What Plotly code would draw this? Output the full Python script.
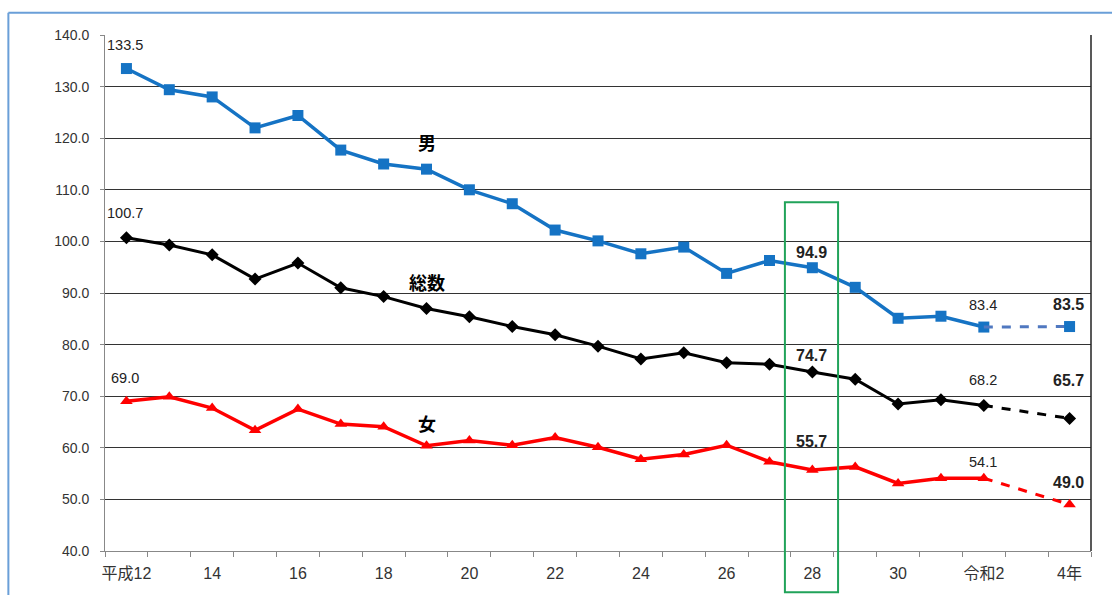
import plotly.graph_objects as go

# Fiscal years (平成12 … 令和4); 令和3 has no survey value
years = ["平成12", "13", "14", "15", "16", "17", "18", "19", "20", "21", "22",
         "23", "24", "25", "26", "27", "28", "29", "30", "令和元", "令和2", "令和3", "令和4"]
axis_labels = ["平成12", "", "14", "", "16", "", "18", "", "20", "", "22", "",
               "24", "", "26", "", "28", "", "30", "", "令和2", "", "4年"]

male = [133.5, 129.4, 128.0, 122.0, 124.4, 117.7, 115.0, 114.0, 110.0, 107.3, 102.2,
        100.1, 97.6, 98.9, 93.8, 96.3, 94.9, 91.1, 85.1, 85.5, 83.4, None, 83.5]
total = [100.7, 99.3, 97.4, 92.7, 95.8, 91.0, 89.3, 87.0, 85.4, 83.5, 81.9,
         79.7, 77.2, 78.4, 76.5, 76.2, 74.7, 73.3, 68.5, 69.3, 68.2, None, 65.7]
female = [69.0, 69.9, 67.7, 63.4, 67.5, 64.6, 64.1, 60.4, 61.4, 60.5, 62.0,
          60.1, 57.8, 58.7, 60.5, 57.3, 55.7, 56.3, 53.1, 54.1, 54.1, None, 49.0]

series_names = ["男", "総数", "女"]

FONT = "Liberation Sans, Noto Sans CJK JP, sans-serif"
x_idx = list(range(len(years)))
solid_end = years.index("令和2")
last = len(years) - 1
highlight = years.index("28")

styles = [
    dict(values=male, color="#1573c4", dash_color="#5078c0", symbol="square", size=11, width=3.5),
    dict(values=total, color="#000000", dash_color="#000000", symbol="diamond", size=10, width=3),
    dict(values=female, color="#ff0000", dash_color="#ff0000", symbol="triangle-up", size=11, width=3.5),
]

fig = go.Figure()
for st in styles:
    vals = st["values"]
    # observed years drawn as a solid line
    fig.add_trace(go.Scatter(
        x=x_idx[:solid_end + 1], y=vals[:solid_end + 1], mode="lines+markers",
        line=dict(color=st["color"], width=st["width"]),
        marker=dict(symbol=st["symbol"], size=st["size"], color=st["color"]),
        showlegend=False, hoverinfo="x+y"))
    # gap year bridged with a dashed segment
    fig.add_trace(go.Scatter(
        x=[x_idx[solid_end], x_idx[last]], y=[vals[solid_end], vals[last]], mode="lines",
        line=dict(color=st["dash_color"], width=3, dash="dash"),
        showlegend=False, hoverinfo="skip"))
    fig.add_trace(go.Scatter(
        x=[x_idx[last]], y=[vals[last]], mode="markers",
        marker=dict(symbol=st["symbol"], size=st["size"], color=st["color"]),
        showlegend=False, hoverinfo="x+y"))

# value labels: (series values, index, bold, vertical offset in px)
label_spec = [
    (male, 0, False, 24), (total, 0, False, 25), (female, 0, False, 23),
    (male, highlight, True, 15), (total, highlight, True, 16), (female, highlight, True, 28),
    (male, solid_end, False, 22), (total, solid_end, False, 25), (female, solid_end, False, 16),
    (male, last, True, 22), (total, last, True, 38), (female, last, True, 22),
]
for vals, i, bold, dy in label_spec:
    txt = f"{vals[i]:.1f}"
    fig.add_annotation(
        x=i, y=vals[i], text=f"<b>{txt}</b>" if bold else txt, showarrow=False,
        yshift=dy, xshift=-1,
        font=dict(family=FONT, size=16 if bold else 14.5, color="#222222"))

# series name labels
name_pos = [(7, 119.3), (7, 92.1), (7, 64.8)]
for name, (xi, yv) in zip(series_names, name_pos):
    fig.add_annotation(x=xi, y=yv, text=f"<b>{name}</b>", showarrow=False,
                       font=dict(family="Noto Sans CJK JP, sans-serif", size=18, color="#000000"))

# highlight frame around 平成28
fig.add_shape(type="rect", xref="x", yref="paper",
              x0=highlight - 0.64, x1=highlight + 0.6, y0=-0.08, y1=0.676,
              line=dict(color="#21a35a", width=2), fillcolor="rgba(0,0,0,0)")
# right edge of the plot frame
fig.add_shape(type="line", xref="paper", yref="paper", x0=1, x1=1, y0=0, y1=1,
              line=dict(color="#222222", width=1.5))
# outer chart border (top and left edges)
fig.add_shape(type="line", xref="paper", yref="paper", x0=-0.098, x1=1.05, y0=1.043, y1=1.043,
              line=dict(color="#6a9fd8", width=2))
fig.add_shape(type="line", xref="paper", yref="paper", x0=-0.098, x1=-0.098, y0=-0.2, y1=1.043,
              line=dict(color="#6a9fd8", width=2))

fig.update_layout(
    width=1112, height=595,
    margin=dict(l=105, r=21, t=35, b=44),
    paper_bgcolor="white", plot_bgcolor="white",
    font=dict(family=FONT, size=13, color="#333333"),
    xaxis=dict(
        range=[-0.5, len(years) - 0.5], tickmode="array", tickvals=x_idx, ticktext=axis_labels,
        ticks="", showgrid=False, zeroline=False, showline=True, linecolor="#888888", linewidth=1,
        tickfont=dict(size=16, color="#333333"), ticklabelstandoff=8,
        minor=dict(tickmode="linear", tick0=-0.5, dtick=1, ticks="outside", ticklen=5,
                   tickcolor="#888888", showgrid=False),
    ),
    yaxis=dict(
        range=[40, 140], dtick=10, tickformat=".1f", showgrid=True, gridcolor="#333333",
        gridwidth=1.2, zeroline=False, showline=True, linecolor="#888888", linewidth=1,
        ticks="outside", ticklen=4, tickcolor="#888888", ticklabelstandoff=8,
        tickfont=dict(size=14, color="#333333"),
    ),
)

fig.write_html("out.html")
